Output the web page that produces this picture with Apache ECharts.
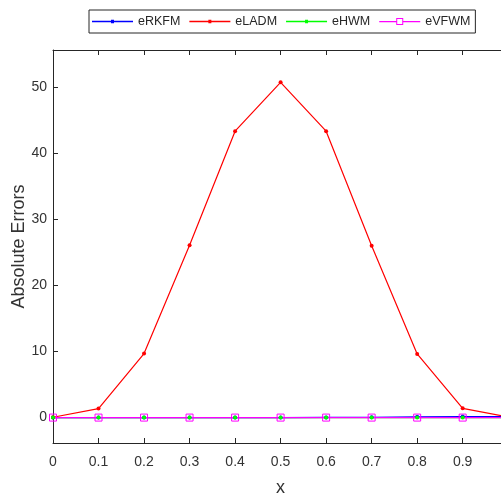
<!DOCTYPE html>
<html>
<head>
<meta charset="utf-8">
<script src="https://cdn.jsdelivr.net/npm/echarts@6/dist/echarts.min.js"></script>
<style>
  html, body { margin: 0; padding: 0; background: #fff; }
  #chart { width: 501px; height: 493px; }
</style>
</head>
<body>
<div id="chart"></div>
<script>
// Grid points along x
const xValues = [0, 0.1, 0.2, 0.3, 0.4, 0.5, 0.6, 0.7, 0.8, 0.9, 1.0];

// Absolute errors of each method at the grid points
const eRKFM = [0, 0.001, 0.002, 0.004, 0.006, 0.01, 0.02, 0.04, 0.12, 0.15, 0.16];
const eLADM = [0.05, 1.37, 9.7, 26.1, 43.4, 50.8, 43.4, 26.05, 9.65, 1.4, 0.1];
const eHWM  = [0, 0, 0, 0, 0, 0, 0, 0, 0, 0, 0];
const eVFWM = [0, 0, 0, 0, 0, 0, 0, 0, 0, 0, 0];

// Labelled ticks on the error axis
const yTicks = [0, 10, 20, 30, 40, 50];

const FONT = 'Liberation Sans, Arial, Helvetica, sans-serif';
const AXIS_COLOR = '#262626';
const LABEL_COLOR = '#333333';

function pairs(values) {
  return xValues.map((x, i) => [x, values[i]]);
}

// Legend icons: a short line with a small dot, or a hollow square for eVFWM
const DOT_ICON = 'path://M0,1H41V2.3H0Z M19,0H22V3.3H19Z';
const SQUARE_ICON = 'path://M0,3H17V4.3H0Z M24,3H41V4.3H24Z M17,0H24V7H17Z M18,1V6H23V1Z';

function dotSeries(name, values, color) {
  return {
    name: name,
    type: 'line',
    data: pairs(values),
    symbol: 'circle',
    symbolSize: 4,
    showSymbol: true,
    lineStyle: { color: color, width: 1.2 },
    itemStyle: { color: color },
    emphasis: { disabled: true },
    animation: false
  };
}

const chart = echarts.init(document.getElementById('chart'), null, { renderer: 'canvas' });

chart.setOption({
  backgroundColor: '#ffffff',
  animation: false,
  legend: {
    left: 89,
    top: 10,
    orient: 'horizontal',
    itemWidth: 41,
    itemHeight: 14,
    itemGap: 9,
    padding: [5, 5, 5, 3],
    borderColor: AXIS_COLOR,
    borderWidth: 1,
    backgroundColor: '#ffffff',
    selectedMode: false,
    textStyle: { fontFamily: FONT, fontSize: 12.5, color: '#262626' },
    data: [
      { name: 'eRKFM', icon: DOT_ICON, itemStyle: { color: '#0000ff', borderWidth: 0 } },
      { name: 'eLADM', icon: DOT_ICON, itemStyle: { color: '#ff0000', borderWidth: 0 } },
      { name: 'eHWM',  icon: DOT_ICON, itemStyle: { color: '#00ff00', borderWidth: 0 } },
      { name: 'eVFWM', icon: SQUARE_ICON, itemStyle: { color: '#ff00ff', borderWidth: 0 } }
    ]
  },
  grid: {
    left: 53,
    right: -7.2,
    top: 50,
    bottom: 50,
    containLabel: false,
    outerBoundsMode: 'none'
  },
  xAxis: [
    {
      type: 'value',
      position: 'bottom',
      min: 0,
      max: 1,
      interval: 0.1,
      name: 'x',
      nameLocation: 'middle',
      nameGap: 36,
      nameMoveOverlap: false,
      nameTextStyle: { fontFamily: FONT, fontSize: 18, color: LABEL_COLOR },
      axisLine: { show: true, onZero: false, lineStyle: { color: AXIS_COLOR, width: 1 } },
      axisTick: { show: true, inside: true, length: 5, lineStyle: { color: AXIS_COLOR } },
      axisLabel: {
        fontFamily: FONT, fontSize: 14, color: LABEL_COLOR, margin: 12,
        formatter: v => String(Math.round(v * 10) / 10)
      },
      splitLine: { show: false }
    },
    {
      type: 'value',
      position: 'top',
      min: 0,
      max: 1,
      interval: 0.1,
      axisLine: { show: true, onZero: false, lineStyle: { color: AXIS_COLOR, width: 1 } },
      axisTick: { show: true, inside: true, length: 5, lineStyle: { color: AXIS_COLOR } },
      axisLabel: { show: false },
      splitLine: { show: false }
    }
  ],
  yAxis: {
    type: 'value',
    min: -3.85,
    max: 55.7,
    name: 'Absolute Errors',
    nameLocation: 'middle',
    nameGap: 25,
    nameMoveOverlap: false,
    nameTextStyle: { fontFamily: FONT, fontSize: 18, color: LABEL_COLOR },
    axisLine: { show: true, onZero: false, lineStyle: { color: AXIS_COLOR, width: 1 } },
    axisTick: { show: true, inside: true, length: 5, customValues: yTicks, lineStyle: { color: AXIS_COLOR } },
    axisLabel: { fontFamily: FONT, fontSize: 14, color: LABEL_COLOR, margin: 6, customValues: yTicks },
    splitLine: { show: false }
  },
  series: [
    dotSeries('eRKFM', eRKFM, '#0000ff'),
    dotSeries('eLADM', eLADM, '#ff0000'),
    dotSeries('eHWM', eHWM, '#00ff00'),
    {
      name: 'eVFWM',
      type: 'line',
      data: pairs(eVFWM),
      symbol: 'rect',
      symbolSize: 7,
      showSymbol: true,
      lineStyle: { color: '#ff00ff', width: 1.2 },
      itemStyle: { color: 'rgba(0,0,0,0)', borderColor: '#ff00ff', borderWidth: 1 },
      emphasis: { disabled: true },
      animation: false
    }
  ]
});
</script>
</body>
</html>
